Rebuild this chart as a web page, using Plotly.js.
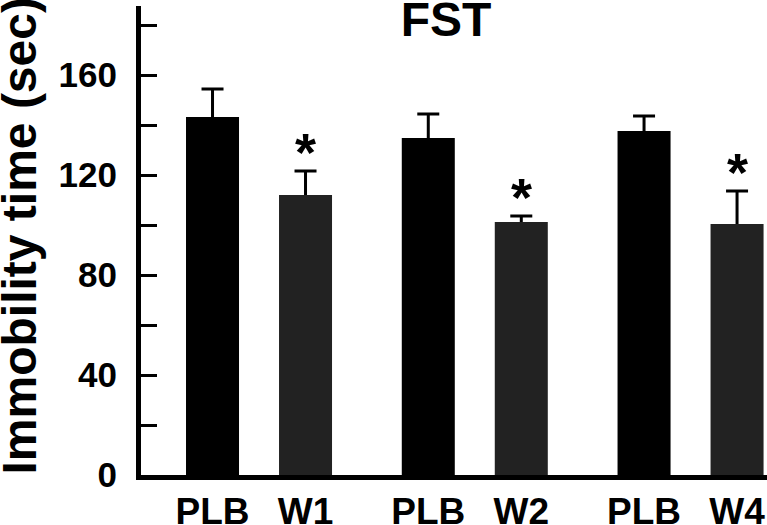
<!DOCTYPE html>
<html>
<head>
<meta charset="utf-8">
<script src="https://cdn.plot.ly/plotly-3.0.1.min.js"></script>
<style>html,body{margin:0;padding:0;background:#fff;}#chart{width:767px;height:525px;}</style>
</head>
<body>
<div id="chart"></div>
<script>
// Data
var labels = ['PLB', 'W1', 'PLB', 'W2', 'PLB', 'W4'];
var immobility = [143.2, 112.0, 134.8, 101.2, 137.6, 100.4];
var sem = [11.2, 9.6, 9.6, 2.4, 6.0, 13.2];
var significant = [false, true, false, true, false, true];
var yTickValues = [0, 20, 40, 60, 80, 100, 120, 140, 160, 180];
var yTickLabels = ['0', '', '40', '', '80', '', '120', '', '160', ''];
var yTitle = 'Immobility time (sec)';
var chartTitle = 'FST';

// layout helpers (positions derived from index: pairs separated by extra gap)
var pairGap = 0.32;
var xpos = labels.map(function (_, i) { return i + Math.floor(i / 2) * pairGap; });
var colors = labels.map(function (l) { return l === 'PLB' ? '#000000' : '#222222'; });
var hide = 1.4; // push lower cross-bar of error bars beneath the bar top
var starGap = 7.5;

var font = 'Liberation Sans, Arial, Helvetica, sans-serif';
var mL = 141, mR = 0, mT = 6, mB = 50, W = 767, H = 525;
var plotW = W - mL - mR, plotH = H - mT - mB;

// invisible carrier of the upward error bars (drawn first, so the real bars hide the lower cap)
var errTrace = {
  type: 'bar',
  x: xpos,
  y: immobility.map(function (v) { return v - hide; }),
  width: 0.57,
  marker: { color: 'rgba(0,0,0,0)', line: { width: 0 } },
  error_y: {
    type: 'data', symmetric: false,
    array: sem.map(function (e) { return e + hide; }),
    arrayminus: sem.map(function () { return 0; }),
    color: '#000', thickness: 3, width: 11
  },
  hoverinfo: 'none'
};

var barTrace = {
  type: 'bar',
  x: xpos,
  y: immobility,
  width: 0.57,
  marker: { color: colors, line: { width: 0 } },
  hoverinfo: 'none'
};

var annotations = [];
significant.forEach(function (s, i) {
  if (s) {
    annotations.push({
      x: xpos[i], y: immobility[i] + sem[i] + starGap, xref: 'x', yref: 'y',
      text: '<b>*</b>', showarrow: false, yanchor: 'middle',
      font: { family: font, size: 54, color: '#000' }
    });
  }
});
// y-axis title as rotated annotation for exact placement
annotations.push({
  xref: 'paper', yref: 'paper',
  x: (20 - mL) / plotW, xanchor: 'center',
  y: 0.5085, yanchor: 'middle',
  textangle: -90, showarrow: false,
  text: '<b>' + yTitle + '</b>',
  font: { family: font, size: 48, color: '#000' }
});

var layout = {
  width: W, height: H,
  margin: { l: mL, r: mR, t: mT, b: mB },
  paper_bgcolor: '#fff', plot_bgcolor: '#fff',
  showlegend: false,
  barmode: 'overlay',
  title: {
    text: '<b>' + chartTitle + '</b>', xref: 'container', yref: 'container',
    x: 446 / W, xanchor: 'center', y: 1 - 2 / H, yanchor: 'top',
    font: { family: font, size: 48, color: '#000' }
  },
  xaxis: {
    range: [-0.769, 5.962], showgrid: false, zeroline: false,
    showline: true, linecolor: '#000', linewidth: 5,
    tickmode: 'array', tickvals: xpos, ticktext: labels.map(function (l) { return '<b>' + l + '</b>'; }),
    ticks: '', ticklabelstandoff: 0,
    tickfont: { family: font, size: 37, color: '#000' }
  },
  yaxis: {
    range: [0, 187.6], showgrid: false, zeroline: false,
    showline: true, linecolor: '#000', linewidth: 5,
    tickmode: 'array', tickvals: yTickValues, ticktext: yTickLabels.map(function (t) { return t ? '<b>' + t + '</b>' : ''; }),
    ticks: 'inside', ticklen: 16, tickwidth: 3, tickcolor: '#000',
    ticklabelstandoff: 12,
    tickfont: { family: font, size: 35, color: '#000' }
  },
  annotations: annotations
};

Plotly.newPlot('chart', [errTrace, barTrace], layout, { staticPlot: true, displayModeBar: false });
</script>
</body>
</html>
